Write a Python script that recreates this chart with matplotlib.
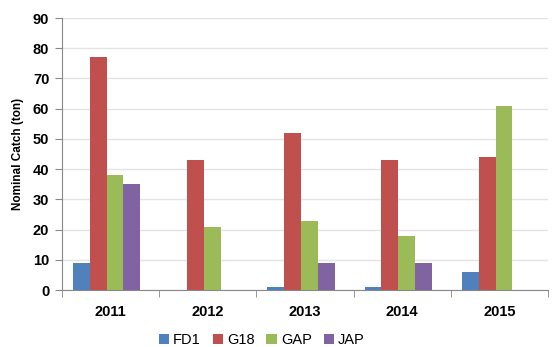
import matplotlib
matplotlib.use("Agg")
import matplotlib.pyplot as plt
import numpy as np

years = ["2011", "2012", "2013", "2014", "2015"]
series = ["FD1", "G18", "GAP", "JAP"]
fd1 = [9, 0, 1, 1, 6]
g18 = [77, 43, 52, 43, 44]
gap = [38, 21, 23, 18, 61]
jap = [35, 0, 9, 9, 0]
colors = ["#4F81BD", "#C0504D", "#9BBB59", "#8064A2"]

plt.rcParams["font.family"] = ["Liberation Sans", "DejaVu Sans"]

fig = plt.figure(figsize=(5.57, 3.47), dpi=100)
ax = fig.add_axes([0.111, 0.164, 0.873, 0.784])

x = np.arange(len(years))
width = 0.173
for i, (name, vals) in enumerate(zip(series, [fd1, g18, gap, jap])):
    ax.bar(x + (i - 1.5) * width - 0.04, vals, width, color=colors[i], label=name, zorder=3)

ax.set_xlim(-0.5, len(years) - 0.5)
ax.set_ylim(0, 90)
ax.set_yticks(range(0, 91, 10))
ax.set_xticks(x)
ax.set_xticklabels(years, fontweight="bold", fontsize=10.5)
for lbl in ax.get_yticklabels():
    lbl.set_fontweight("bold")
    lbl.set_fontsize(10.5)
ax.set_xticks(np.arange(-0.5, len(years), 1), minor=True)
ax.tick_params(axis="x", which="major", length=0, pad=11)
ax.tick_params(axis="x", which="minor", length=5, color="#888888")
ax.tick_params(axis="y", length=5, color="#888888", pad=4)

ax.grid(axis="y", color="#e4e4e4", linewidth=1, zorder=0)
for s in ["top", "right"]:
    ax.spines[s].set_visible(False)
for s in ["left", "bottom"]:
    ax.spines[s].set_color("#888888")

ax.set_ylabel("Nominal Catch (ton)", fontweight="bold", fontsize=8.5, labelpad=6)

fig.legend(*ax.get_legend_handles_labels(), loc="center", bbox_to_anchor=(0.47, 0.02),
           ncol=4, frameon=False, handlelength=0.7, handleheight=0.7,
           handletextpad=0.3, columnspacing=0.8, fontsize=10.5)

fig.savefig("out.png", dpi=100)
